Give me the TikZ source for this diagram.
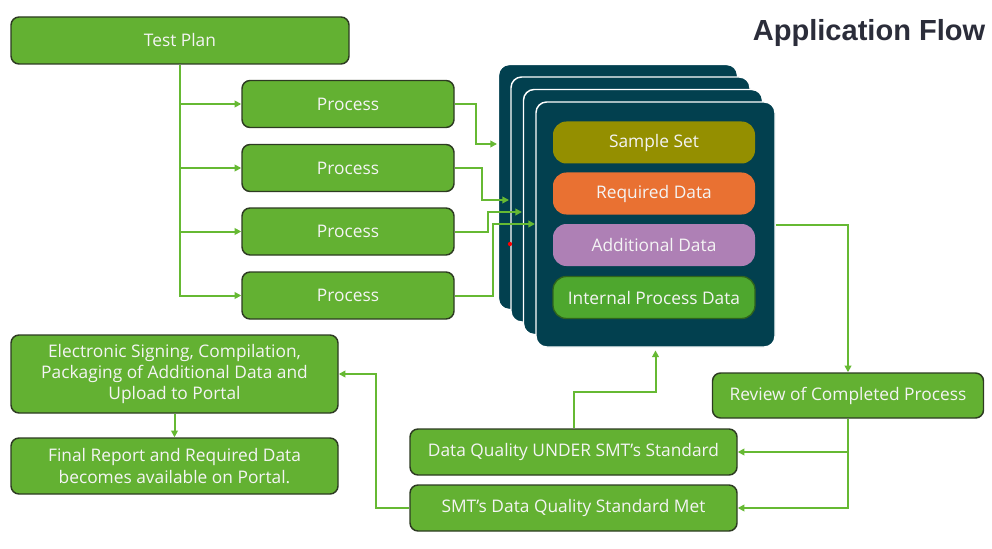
\documentclass[tikz,border=0pt]{standalone}
\usepackage{fontspec}
\setmainfont{Open Sans}
\newfontfamily\titlefont{Liberation Sans}
\usetikzlibrary{arrows.meta}
\definecolor{gfill}{HTML}{63B132}
\definecolor{gline}{HTML}{66B933}
\definecolor{gborder}{HTML}{2D3B22}
\definecolor{teal}{HTML}{02404F}
\definecolor{olive}{HTML}{948F00}
\definecolor{orng}{HTML}{E97132}
\definecolor{purp}{HTML}{AE80B5}
\definecolor{igreen}{HTML}{4EA72E}
\definecolor{titlec}{HTML}{2B2D3A}
\definecolor{txt}{HTML}{F4F4F4}
\tikzset{
  gbox/.style={draw=gborder, line width=1.1pt, fill=gfill, rounded corners=6pt, text=txt, font=\fontsize{13}{16}\selectfont, align=center, inner sep=0pt},
  card/.style={draw=white, line width=1.1pt, fill=teal, rounded corners=8pt, minimum width=179.25pt, minimum height=183.75pt},
  inbox/.style={rounded corners=10pt, minimum width=151.5pt, minimum height=31.5pt, text=txt, font=\fontsize{13}{16}\selectfont, inner sep=0pt},
  arr/.style={draw=gline, line width=1.5pt, -{Triangle[length=5pt,width=5pt]}},
}
\begin{document}
\begin{tikzpicture}[x=0.75pt,y=-0.75pt]
\useasboundingbox (0,0) rectangle (992,549);
% title
\node[anchor=east, text=titlec, font=\titlefont\bfseries\fontsize{21.8}{25}\selectfont] (title) at (990,33) {Application Flow};
% test plan and processes
\node[gbox, minimum width=253.5pt, minimum height=35.25pt] (tp) at (180,40.5) {Test Plan};
\node[gbox, minimum width=159pt, minimum height=35.25pt] (p1) at (348,104) {Process};
\node[gbox, minimum width=159pt, minimum height=35.25pt] (p2) at (348,168) {Process};
\node[gbox, minimum width=159pt, minimum height=35.25pt] (p3) at (348,231.5) {Process};
\node[gbox, minimum width=159pt, minimum height=35.25pt] (p4) at (348,295.5) {Process};
% cards
\node[card] (c1) at (618,187) {};
\node[card] (c2) at (630.5,199.5) {};
\node[card] (c3) at (643,212) {};
\node[card] (c4) at (655.5,224.5) {};
\node[inbox, fill=olive] (ss) at (654,142.5) {Sample Set};
\node[inbox, fill=orng] (rd) at (654,193.5) {Required Data};
\node[inbox, fill=purp] (ad) at (654,245) {Additional Data};
\node[inbox, fill=igreen, draw=igreen!60!black, line width=1pt] (ip) at (654,297.5) {Internal Process Data};
\fill[red] (510,244) circle (1.6pt);
% lower boxes
\node[gbox, minimum width=203.25pt, minimum height=33.75pt] (rev) at (848,395.5) {Review of Completed Process};
\node[gbox, minimum width=245.25pt, minimum height=34.5pt] (under) at (573.5,452) {Data Quality UNDER SMT’s Standard};
\node[gbox, minimum width=245.25pt, minimum height=34.5pt] (met) at (573.5,508) {SMT’s Data Quality Standard Met};
\node[gbox, minimum width=245.25pt, minimum height=58.5pt] (elec) at (174.5,374) {Electronic Signing, Compilation,\\Packaging of Additional Data and\\Upload to Portal};
\node[gbox, minimum width=245.25pt, minimum height=42pt] (fin) at (174.5,466) {Final Report and Required Data\\becomes available on Portal.};
% coordinates
\coordinate (e1) at (497,144);
\coordinate (e2) at (509,200);
\coordinate (e3) at (522,212);
\coordinate (e4) at (535,224);
\coordinate (b1) at (476,104);
\coordinate (b2) at (482,168);
\coordinate (b3) at (488,231.5);
\coordinate (b4) at (493,295.5);
\coordinate (u1) at (573.5,392);
\coordinate (m1) at (376,508);
% connectors
\draw[arr] (tp.south) |- (p4.west);
\draw[arr] (tp.south |- p1.west) -- (p1.west);
\draw[arr] (tp.south |- p2.west) -- (p2.west);
\draw[arr] (tp.south |- p3.west) -- (p3.west);
\draw[arr] (p1.east) -- (b1) |- (e1);
\draw[arr] (p2.east) -- (b2) |- (e2);
\draw[arr] (p3.east) -- (b3) |- (e3);
\draw[arr] (p4.east) -- (b4) |- (e4);
\draw[arr] (c4.east) -| (rev.north);
\draw[arr] (rev.south) |- (met.east);
\draw[arr] (rev.south |- under.east) -- (under.east);
\draw[arr, shorten >=2pt] (under.north) -- (u1) -| (c4.south);
\draw[arr] (met.west) -- (m1) |- (elec.east);
\draw[arr] (elec.south) -- (fin.north);
\end{tikzpicture}
\end{document}
